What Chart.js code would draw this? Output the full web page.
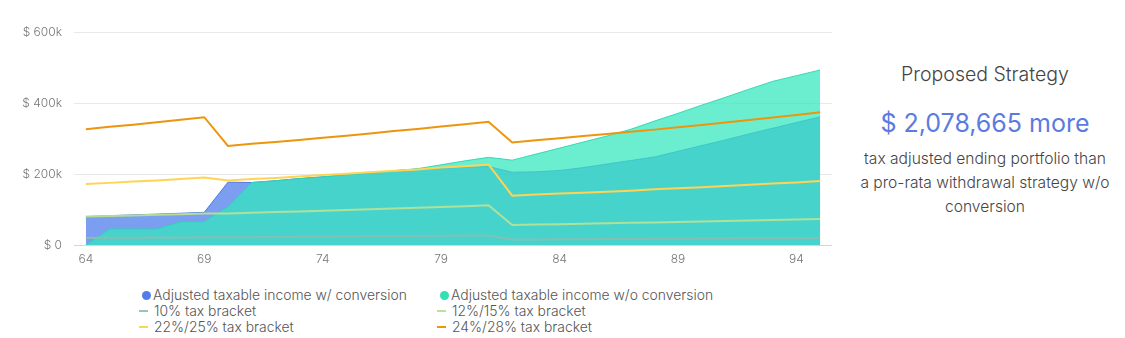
<!DOCTYPE html>
<html>
<head>
<meta charset="utf-8">
<script src="https://cdn.jsdelivr.net/npm/chart.js@4.4.1/dist/chart.umd.min.js"></script>
<style>
    body { margin: 0; width: 1125px; height: 338px; background: #fff; font-family: Inter, sans-serif; font-weight: 300; overflow: hidden; position: relative; }
    #chartBox { position: absolute; left: 0; top: 0; width: 845px; height: 285px; }
    #legend { position: absolute; left: 139px; top: 287px; display: grid; grid-template-columns: 298px 300px; font-size: 13.9px; color: #555; line-height: 16px; }
    .item { display: flex; align-items: center; white-space: nowrap; height: 16px; }
    .dot { width: 9px; height: 9px; border-radius: 50%; margin: 0 2px 0 3px; }
    .dash { width: 9px; height: 2px; margin-right: 6px; }
    #side { position: absolute; left: 845px; top: 0; width: 280px; text-align: center; color: #444; }
    #side .title { position: absolute; top: 62px; width: 100%; font-size: 19.5px; }
    #side .amount { position: absolute; top: 108px; width: 100%; font-size: 25px; font-weight: 400; color: #5b7be0; }
    #side .note { position: absolute; top: 147px; left: 15px; width: 250px; font-size: 15.6px; line-height: 24px; }
</style>
</head>
<body>
<div id="chartBox"><canvas id="incomeChart"></canvas></div>
<div id="legend"></div>
<div id="side">
    <div class="title">Proposed Strategy</div>
    <div class="amount">$ 2,078,665 more</div>
    <div class="note">tax adjusted ending portfolio than a pro-rata withdrawal strategy w/o conversion</div>
</div>
<script>
// ages on the x axis
var ages = [64, 65, 66, 67, 68, 69, 70, 71, 72, 73, 74, 75, 76, 77, 78, 79,
            80, 81, 82, 83, 84, 85, 86, 87, 88, 89, 90, 91, 92, 93, 94, 95];

var withConversion = [80000, 82500, 85000, 87000, 89500, 92000, 177000, 176000, 181000, 187000, 192000, 198000, 203000, 209000, 214000, 216000,
                      218500, 221000, 205000, 206000, 210000, 218000, 228000, 238000, 248000, 264000, 280000, 296000, 313000, 329000, 345000, 361000];

var withoutConversion = [0, 45000, 45000, 45000, 65000, 66000, 108000, 176000, 181000, 187000, 192000, 198000, 203000, 209000, 215000, 226000,
                         237000, 247000, 239000, 256000, 273000, 290000, 307000, 326000, 349000, 371000, 394000, 416000, 439000, 461000, 477000, 493000];

var bracket10 = [19700, 20100, 20500, 20900, 21300, 21800, 21700, 22100, 22600, 23000, 23500, 24000, 24400, 24900, 25400, 25900,
                 26500, 27000, 15500, 15800, 16100, 16400, 16800, 17100, 17400, 17800, 18100, 18500, 18900, 19200, 19600, 20000];

var bracket12 = [80100, 81700, 83400, 85100, 86900, 88600, 89000, 90900, 92800, 94700, 96700, 98700, 100700, 102800, 104900, 107100,
                 109500, 112000, 56500, 57600, 58800, 60000, 61200, 62400, 63600, 64900, 66200, 67500, 68900, 70300, 71700, 73100];

var bracket22 = [172000, 175000, 179000, 182000, 186000, 190000, 182000, 186000, 189000, 193000, 197000, 201000, 205000, 209000, 213000, 218000,
                 222000, 227000, 139000, 142000, 145000, 147000, 150000, 153000, 157000, 160000, 163000, 166000, 170000, 173000, 176000, 180000];

var bracket24 = [326000, 333000, 339000, 346000, 353000, 360000, 279000, 285000, 290000, 296000, 302000, 308000, 314000, 321000, 327000, 334000,
                 340000, 347000, 289000, 295000, 301000, 307000, 313000, 319000, 325000, 332000, 338000, 345000, 352000, 359000, 366000, 374000];

var yTicks = [0, 200000, 400000, 600000];

function areaSet(label, data, fillColor, lineColor, legendColor, order) {
    return {
        label: label, data: data, fill: 'origin',
        backgroundColor: fillColor, borderColor: lineColor, borderWidth: 1,
        pointRadius: 0, tension: 0, order: order, legendColor: legendColor, marker: 'dot'
    };
}

function lineSet(label, data, color) {
    return {
        label: label, data: data, fill: false,
        borderColor: color, backgroundColor: color, borderWidth: 2,
        pointRadius: 0, tension: 0, order: 0, legendColor: color, marker: 'dash'
    };
}

var tickFont = { family: 'Inter', size: 12, weight: 300 };

var ctx = document.getElementById('incomeChart').getContext('2d');
var incomeChart = new Chart(ctx, {
    type: 'line',
    data: {
        labels: ages,
        datasets: [
            areaSet('Adjusted taxable income w/ conversion', withConversion, 'rgba(80,125,235,0.75)', 'rgba(70,110,225,0.9)', '#507de8', 2),
            areaSet('Adjusted taxable income w/o conversion', withoutConversion, 'rgba(50,232,190,0.72)', 'rgba(40,215,175,0.9)', '#33e0b4', 1),
            lineSet('10% tax bracket', bracket10, 'rgba(140,190,180,0.9)'),
            lineSet('12%/15% tax bracket', bracket12, 'rgba(180,225,150,0.95)'),
            lineSet('22%/25% tax bracket', bracket22, '#ffd452'),
            lineSet('24%/28% tax bracket', bracket24, '#ee950e')
        ]
    },
    options: {
        responsive: true,
        maintainAspectRatio: false,
        animation: false,
        layout: { padding: { top: 32, right: 13, left: 0, bottom: 0 } },
        plugins: { legend: { display: false }, tooltip: { enabled: false } },
        scales: {
            x: {
                offset: true,
                grid: { display: false, drawTicks: false },
                border: { display: false },
                ticks: {
                    autoSkip: false, maxRotation: 0, padding: 7,
                    color: '#777', font: tickFont,
                    callback: function(value) {
                        var age = ages[value];
                        return (age - 64) % 5 === 0 ? String(age) : '';
                    }
                },
                afterFit: function(scale) { scale.height = 40; }
            },
            y: {
                min: 0, max: 600000,
                border: { display: false },
                grid: {
                    drawTicks: false,
                    color: function(c) { return c.tick && c.tick.value === 0 ? '#d6d6d6' : '#e8e8e8'; }
                },
                afterBuildTicks: function(scale) { scale.ticks = yTicks.map(function(v) { return { value: v }; }); },
                ticks: {
                    padding: 12, color: '#777', font: tickFont,
                    callback: function(value) { return value === 0 ? '$ 0' : '$ ' + (value / 1000) + 'k'; }
                },
                afterFit: function(scale) { scale.width = 74; }
            }
        }
    }
});

// two-column legend built from the chart's datasets
var legendBox = document.getElementById('legend');
incomeChart.data.datasets.forEach(function(ds) {
    var item = document.createElement('div');
    item.className = 'item';
    var mark = document.createElement('span');
    mark.className = ds.marker;
    mark.style.background = ds.legendColor;
    item.appendChild(mark);
    item.appendChild(document.createTextNode(ds.label));
    legendBox.appendChild(item);
});
</script>
</body>
</html>
